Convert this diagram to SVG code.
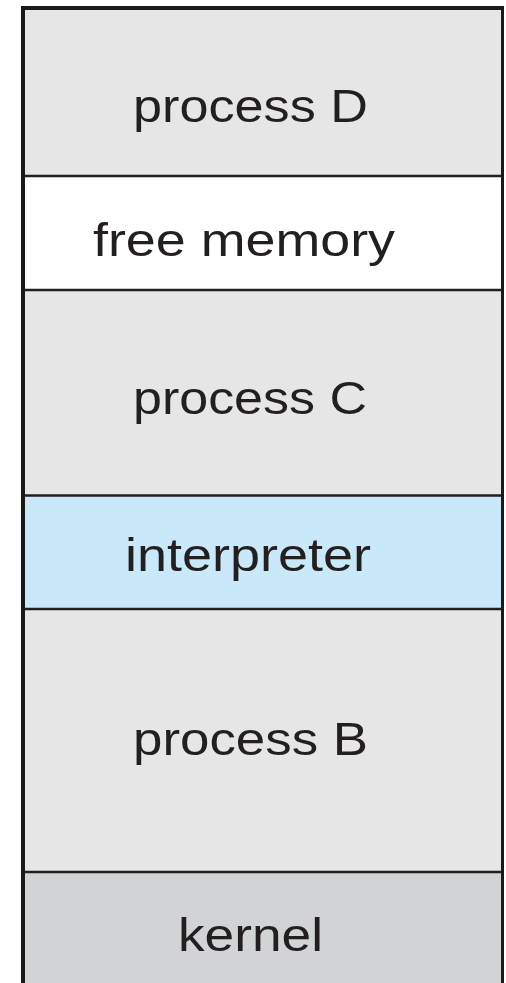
<svg xmlns="http://www.w3.org/2000/svg" width="506" height="983" viewBox="0 0 506 983">
  <style>
    .proc { fill: #e6e6e6; }
    .free { fill: #ffffff; }
    .interp { fill: #c9e8f9; }
    .kern { fill: #d1d3d4; }
    .lbl { font-family: "Liberation Sans", Arial, sans-serif; font-size: 47px; fill: #231f20; text-anchor: start; }
    .div { stroke: #231f20; stroke-width: 2.5; fill: none; }
    .frame { stroke: #1a1a1a; fill: none; }
  </style>
  <rect x="0" y="0" width="506" height="983" fill="#ffffff"/>
  <g id="processD">
    <rect class="proc" x="23" y="8" width="479" height="168"/>
    <text class="lbl" x="133" y="122" textLength="235" lengthAdjust="spacingAndGlyphs">process D</text>
  </g>
  <g id="freeMemory">
    <rect class="free" x="23" y="176" width="479" height="114"/>
    <text class="lbl" x="93" y="256" textLength="302" lengthAdjust="spacingAndGlyphs">free memory</text>
  </g>
  <g id="processC">
    <rect class="proc" x="23" y="290" width="479" height="205"/>
    <text class="lbl" x="133" y="414" textLength="234" lengthAdjust="spacingAndGlyphs">process C</text>
  </g>
  <g id="interpreter">
    <rect class="interp" x="23" y="495" width="479" height="114"/>
    <text class="lbl" x="125" y="571" textLength="246" lengthAdjust="spacingAndGlyphs">interpreter</text>
  </g>
  <g id="processB">
    <rect class="proc" x="23" y="609" width="479" height="263"/>
    <text class="lbl" x="133" y="755" textLength="235" lengthAdjust="spacingAndGlyphs">process B</text>
  </g>
  <g id="kernel">
    <rect class="kern" x="23" y="872" width="479" height="111"/>
    <text class="lbl" x="178" y="951" textLength="145" lengthAdjust="spacingAndGlyphs">kernel</text>
  </g>
  <g id="connectors">
    <line class="div" x1="23" y1="176" x2="502" y2="176"/>
    <line class="div" x1="23" y1="290" x2="502" y2="290"/>
    <line class="div" x1="23" y1="495.5" x2="502" y2="495.5"/>
    <line class="div" x1="23" y1="609" x2="502" y2="609"/>
    <line class="div" x1="23" y1="872" x2="502" y2="872"/>
    <line class="frame" stroke-width="4" x1="23" y1="6" x2="23" y2="983"/>
    <line class="frame" stroke-width="4" x1="21" y1="8" x2="504" y2="8"/>
    <line class="frame" stroke-width="3" x1="502.5" y1="6" x2="502.5" y2="983"/>
  </g>
</svg>
